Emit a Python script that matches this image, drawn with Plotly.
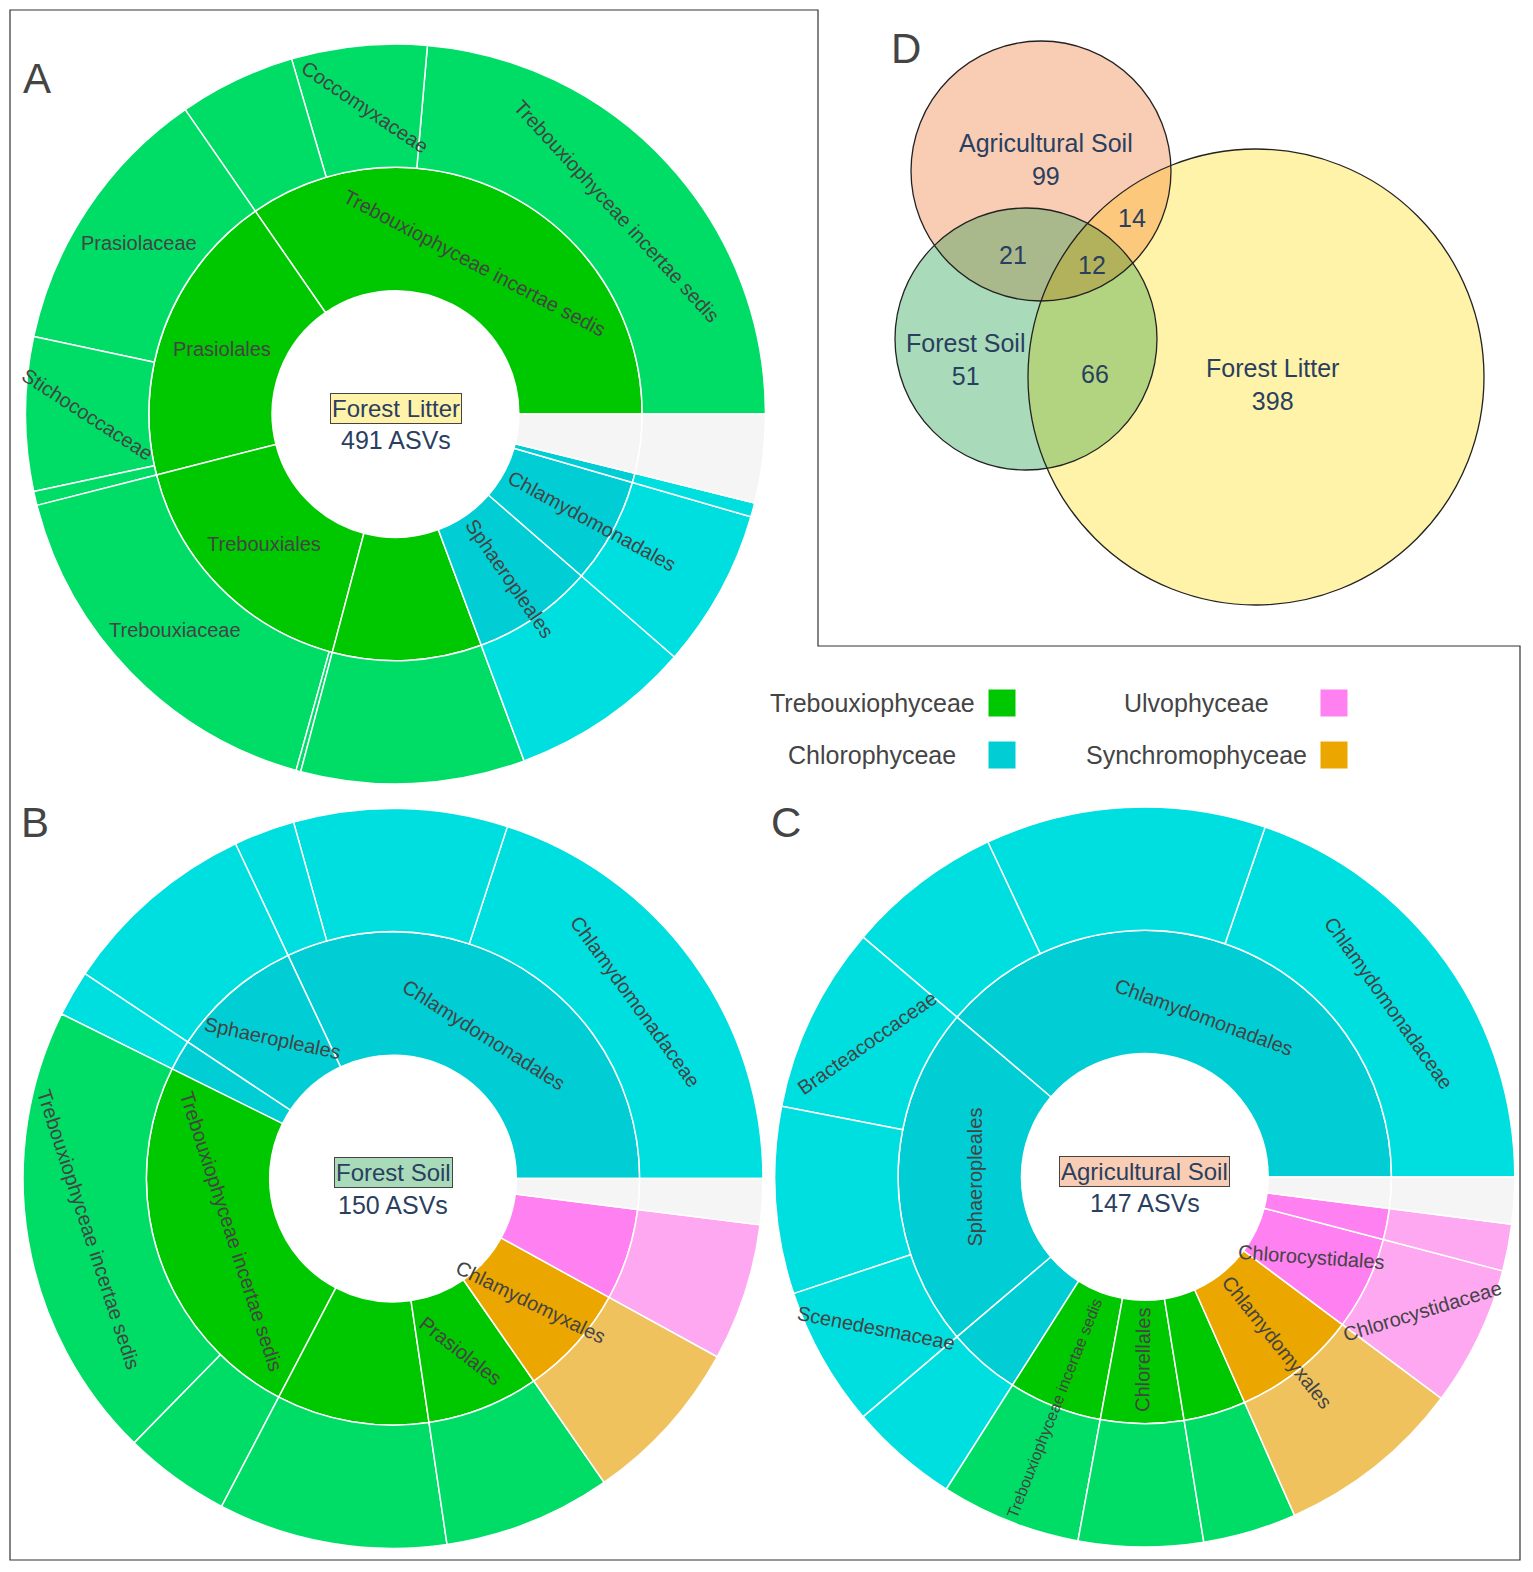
"""Green algae composition per habitat (sunbursts A-C) and shared ASVs (Venn D)."""
import numpy as np
import plotly.graph_objects as go

W, H = 1533, 1572
PAGE = 8  # browser body margin: positions below are page pixels
FONT = "Arial, Liberation Sans, sans-serif"

# class colours: order ring / family ring
class_names = ["Trebouxiophyceae", "Chlorophyceae", "Ulvophyceae", "Synchromophyceae", "unassigned"]
order_colors = ["#00C800", "#00CED4", "#FF80F0", "#EBA600", "#F5F5F5"]
family_colors = ["#00DD66", "#00DFE0", "#FFA8F2", "#F0C25E", "#F5F5F5"]

# ---- A: Forest Litter
litter_orders = ["Trebouxiophyceae incertae sedis", "Prasiolales", "Trebouxiales", "",
                 "Sphaeropleales", "Chlamydomonadales", "", ""]
litter_classes = ["Trebouxiophyceae", "Trebouxiophyceae", "Trebouxiophyceae", "Trebouxiophyceae",
                  "Chlorophyceae", "Chlorophyceae", "Chlorophyceae", "unassigned"]
litter_families = [["Trebouxiophyceae incertae sedis", "Coccomyxaceae", ""],
                   ["Prasiolaceae", "Stichococcaceae", ""],
                   ["Trebouxiaceae", ""], [""], [""], [""], [""], [""]]
litter_asvs = [[116, 29, 25], [59, 33, 3], [82, 1], [48], [39], [34], [3], [19]]

# ---- B: Forest Soil
soil_orders = ["Chlamydomonadales", "Sphaeropleales", "", "Trebouxiophyceae incertae sedis", "",
               "Prasiolales", "Chlamydomyxales", "", ""]
soil_classes = ["Chlorophyceae", "Chlorophyceae", "Chlorophyceae", "Trebouxiophyceae", "Trebouxiophyceae",
                "Trebouxiophyceae", "Synchromophyceae", "Ulvophyceae", "unassigned"]
soil_families = [["Chlamydomonadaceae", "", ""], [""], [""],
                 ["Trebouxiophyceae incertae sedis", ""], [""], [""], [""], [""], [""]]
soil_asvs = [[30, 14, 4], [13], [3], [30, 7], [15], [11], [11], [9], [3]]

# ---- C: Agricultural Soil
agri_orders = ["Chlamydomonadales", "Sphaeropleales", "", "Trebouxiophyceae incertae sedis",
               "Chlorellales", "", "Chlamydomyxales", "Chlorocystidales", "", ""]
agri_classes = ["Chlorophyceae", "Chlorophyceae", "Chlorophyceae", "Trebouxiophyceae", "Trebouxiophyceae",
                "Trebouxiophyceae", "Synchromophyceae", "Ulvophyceae", "Ulvophyceae", "unassigned"]
agri_families = [["Chlamydomonadaceae", "", ""], ["Bracteacoccaceae", "", "Scenedesmaceae"], [""],
                 [""], [""], [""], [""], ["Chlorocystidaceae"], [""], [""]]
agri_asvs = [[29, 18, 10], [12, 12, 9], [7], [9], [8], [6], [12], [9], [3], [3]]

sample_names = ["Forest Litter", "Forest Soil", "Agricultural Soil"]
sample_totals = [491, 150, 147]
sample_colors = ["#FFF2A9", "#A9DABA", "#F9CDB4"]

# ---- D: Venn (Agricultural Soil, Forest Soil, Forest Litter)
venn_sets = ["Agricultural Soil", "Forest Soil", "Forest Litter"]
region_members = [(0,), (1,), (2,), (0, 1), (0, 2), (1, 2), (0, 1, 2)]
region_counts = [99, 51, 398, 21, 14, 66, 12]
region_colors = ["#F9CDB4", "#A9DABA", "#FFF2A9", "#A9B98C", "#FCC87C", "#B2D481", "#B3B25C"]

# sector label styles: "t" tangential, "r" radial, "h" horizontal, number = fixed rotation
label_styles = [
    {"o:Trebouxiophyceae incertae sedis": "t", "f:Trebouxiophyceae incertae sedis": "t",
     "f:Coccomyxaceae": 34, "f:Prasiolaceae": "h", "o:Prasiolales": "h", "f:Stichococcaceae": 33,
     "o:Trebouxiales": "h", "f:Trebouxiaceae": "h", "o:Sphaeropleales": "r", "o:Chlamydomonadales": "r"},
    {"f:Chlamydomonadaceae": "t", "o:Chlamydomonadales": "t", "o:Sphaeropleales": 12,
     "o:Trebouxiophyceae incertae sedis": "t", "f:Trebouxiophyceae incertae sedis": 72,
     "o:Prasiolales": 38, "o:Chlamydomyxales": 26},
    {"f:Chlamydomonadaceae": "t", "o:Chlamydomonadales": "t", "f:Bracteacoccaceae": -35,
     "o:Sphaeropleales": "t", "f:Scenedesmaceae": 11, "o:Trebouxiophyceae incertae sedis": ("r", 16),
     "o:Chlorellales": "r", "o:Chlamydomyxales": "r", "o:Chlorocystidales": 4, "f:Chlorocystidaceae": -17},
]

# layout (page pixel positions)
sun_centres = [(395.5, 414), (393, 1178.5), (1144.8, 1177)]
sun_radius = 370
circle_xy = [(1041, 171), (1026, 339), (1256, 377)]
circle_r = [130, 131, 228]
region_text_xy = [(1046, 159), (965, 359), (1272, 384), (1013, 255), (1132, 218), (1095, 374), (1092, 265)]

ARIAL_W = dict(zip("abcdefghijklmnopqrstuvwxyz ",
                   [.556, .556, .5, .556, .556, .278, .556, .556, .222, .222, .5, .222, .833,
                    .556, .556, .556, .556, .333, .5, .278, .556, .5, .722, .5, .5, .5, .278]))

annotations = []


def text_width(s, size):
    return size * sum(ARIAL_W.get(ch, 0.68) for ch in s)


def norm(a, lo):
    while a < lo:
        a += 180
    while a >= lo + 180:
        a -= 180
    return a


def sector_label(text, outer, theta, style, centre):
    size = 20
    if isinstance(style, tuple):
        style, size = style
    r = sun_radius
    R = r * 5 / 6 if outer else r / 2
    if style == "h":
        angle = 0
    elif style == "t":
        R = r * 0.81 if outer else r * 0.46
        angle = norm(90 - theta, -95)
    elif style == "r":
        R = r / 3 + 7 + text_width(text, size) / 2
        angle = norm(-theta, -90)
    else:
        angle = style
    t = np.radians(theta)
    annotations.append(dict(x=centre[0] + R * np.cos(t), y=centre[1] - R * np.sin(t), xref="x", yref="y",
                            text=text, showarrow=False, textangle=angle,
                            font=dict(family=FONT, size=size, color="#444")))


def build_sunburst(orders, classes, families, asvs, centre, styles):
    total = sum(map(sum, asvs))
    ids, parents, vals, colors = ["root"], [""], [total], ["white"]
    start = 0
    for i, (o, c, fams, counts) in enumerate(zip(orders, classes, families, asvs)):
        k = class_names.index(c)
        oid = f"o{i}"
        ids.append(oid); parents.append("root"); vals.append(sum(counts)); colors.append(order_colors[k])
        if o:
            sector_label(o, False, (start + sum(counts) / 2) / total * 360, styles.get("o:" + o, "h"), centre)
        fstart = start
        for j, (f, n) in enumerate(zip(fams, counts)):
            ids.append(f"{oid}f{j}"); parents.append(oid); vals.append(n); colors.append(family_colors[k])
            if f:
                sector_label(f, True, (fstart + n / 2) / total * 360, styles.get("f:" + f, "h"), centre)
            fstart += n
        start += sum(counts)
    cx, cy = centre[0] - PAGE, centre[1] - PAGE
    r = sun_radius
    return go.Sunburst(
        ids=ids, labels=ids, parents=parents, values=vals, branchvalues="total", sort=False,
        hoverinfo="skip", textinfo="none", leaf=dict(opacity=1),
        marker=dict(colors=colors, line=dict(color="white", width=1.5)),
        domain=dict(x=[(cx - r) / W, (cx + r) / W], y=[(H - cy - r) / H, (H - cy + r) / H]),
    )


fig = go.Figure()
for args, centre, styles in zip(
    [(litter_orders, litter_classes, litter_families, litter_asvs),
     (soil_orders, soil_classes, soil_families, soil_asvs),
     (agri_orders, agri_classes, agri_families, agri_asvs)],
    sun_centres, label_styles,
):
    fig.add_trace(build_sunburst(*args, centre, styles))


def region_polygon(members):
    pts = []
    t = np.linspace(0, 2 * np.pi, 1440, endpoint=False)
    for m in members:
        (x0, y0), r0 = circle_xy[m], circle_r[m]
        px, py = x0 + r0 * np.cos(t), y0 + r0 * np.sin(t)
        keep = np.ones_like(t, dtype=bool)
        for o in members:
            if o != m:
                (x1, y1), r1 = circle_xy[o], circle_r[o]
                keep &= (px - x1) ** 2 + (py - y1) ** 2 <= r1 ** 2
        pts.append(np.c_[px[keep], py[keep]])
    pts = np.vstack(pts)
    c = pts.mean(axis=0)
    pts = pts[np.argsort(np.arctan2(pts[:, 1] - c[1], pts[:, 0] - c[0]))]
    return list(pts[:, 0]) + [pts[0, 0]], list(pts[:, 1]) + [pts[0, 1]]


shapes = []
for (x0, y0), r, col in zip(circle_xy, circle_r, region_colors[:3]):
    shapes.append(dict(type="circle", xref="x", yref="y", x0=x0 - r, x1=x0 + r, y0=y0 - r, y1=y0 + r,
                       fillcolor=col, line=dict(width=0), layer="below"))
for members, col in zip(region_members[3:], region_colors[3:]):
    xs, ys = region_polygon(members)
    fig.add_trace(go.Scatter(x=xs, y=ys, fill="toself", fillcolor=col, mode="lines",
                             line=dict(width=0), hoverinfo="skip", showlegend=False))
for (x0, y0), r in zip(circle_xy, circle_r):
    shapes.append(dict(type="circle", xref="x", yref="y", x0=x0 - r, x1=x0 + r, y0=y0 - r, y1=y0 + r,
                       line=dict(color="#222", width=1.3), layer="above"))

# frame around the panels
shapes.append(dict(type="path", xref="x", yref="y",
                   path="M 10 10 L 818 10 L 818 646 L 1520 646 L 1520 1560 L 10 1560 Z",
                   line=dict(color="#333", width=1.2), layer="above"))

for i, (members, n) in enumerate(zip(region_members, region_counts)):
    label = f"{venn_sets[members[0]]}<br>{n}" if len(members) == 1 else str(n)
    x, y = region_text_xy[i]
    annotations.append(dict(x=x, y=y, xref="x", yref="y", text=label, showarrow=False,
                            font=dict(family=FONT, size=25, color="#2a3f5f")))

for name, total, col, (cx, cy) in zip(sample_names, sample_totals, sample_colors, sun_centres):
    annotations.append(dict(x=cx, y=cy - 6, xref="x", yref="y", text=name, showarrow=False,
                            bgcolor=col, bordercolor="#444", borderwidth=1, borderpad=1,
                            font=dict(family=FONT, size=24, color="#2a3f5f")))
    annotations.append(dict(x=cx, y=cy + 26, xref="x", yref="y", text=f"{total} ASVs", showarrow=False,
                            font=dict(family=FONT, size=25, color="#2a3f5f")))

for letter, (x, y) in zip("ABCD", [(37, 78), (35, 822), (786, 822), (906, 48)]):
    annotations.append(dict(x=x, y=y, xref="x", yref="y", text=letter, showarrow=False,
                            font=dict(family=FONT, size=42, color="#444")))

# class legend
legend_classes = class_names[:4]
legend_text_xy = [(872, 703), (872, 755), (1196, 703), (1196, 755)]
legend_box_x = [1002, 1002, 1334, 1334]
for name, (x, y) in zip(legend_classes, legend_text_xy):
    annotations.append(dict(x=x, y=y, xref="x", yref="y", text=name, showarrow=False,
                            font=dict(family=FONT, size=25, color="#444")))
fig.add_trace(go.Scatter(
    x=legend_box_x, y=[y for _, y in legend_text_xy], mode="markers", hoverinfo="skip", showlegend=False,
    marker=dict(symbol="square", size=28, color=order_colors[:4], line=dict(color="white", width=1)),
))

fig.update_layout(
    width=W, height=H, margin=dict(l=0, r=0, t=0, b=0),
    paper_bgcolor="white", plot_bgcolor="rgba(0,0,0,0)",
    font=dict(family=FONT),
    xaxis=dict(range=[PAGE, W + PAGE], visible=False, domain=[0, 1], fixedrange=True),
    yaxis=dict(range=[H + PAGE, PAGE], visible=False, domain=[0, 1], fixedrange=True),
    shapes=shapes, annotations=annotations, showlegend=False,
)

fig.write_html("out.html")
